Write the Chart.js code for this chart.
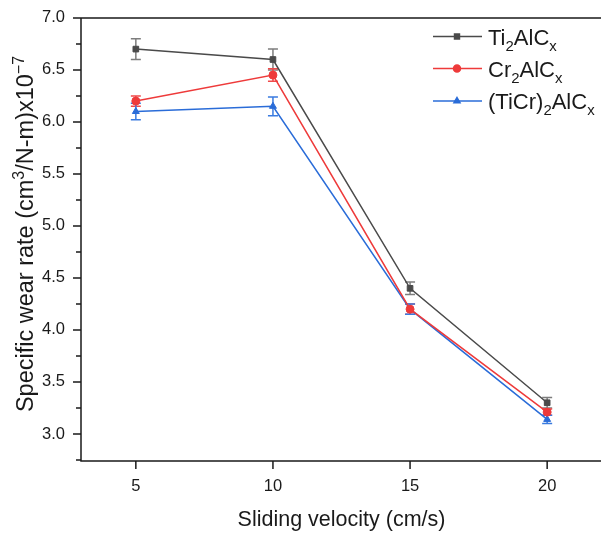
<!DOCTYPE html>
<html lang="en">
<head>
    <meta charset="UTF-8">
    <title>Specific wear rate vs sliding velocity</title>
    <script src="https://cdn.jsdelivr.net/npm/chart.js"></script>
    <style>
        html, body {
            margin: 0;
            padding: 0;
            background: #fff;
            overflow: hidden;
        }
        .chart-container {
            position: absolute;
            left: 0;
            top: 0;
            width: 610px;
            height: 534px;
        }
    </style>
</head>
<body>
    <div class="chart-container">
        <canvas id="wearChart" width="610" height="534"></canvas>
    </div>

    <script>
        // values
        const velocities = [5, 10, 15, 20];
        const tiWear = [6.70, 6.60, 4.40, 3.30];
        const tiErr  = [0.10, 0.10, 0.06, 0.05];
        const crWear = [6.20, 6.45, 4.20, 3.21];
        const crErr  = [0.05, 0.06, 0.05, 0.03];
        const tcWear = [6.10, 6.15, 4.20, 3.14];
        const tcErr  = [0.08, 0.09, 0.05, 0.04];

        const xTicks = [5, 10, 15, 20];
        const yTicks = [3.0, 3.5, 4.0, 4.5, 5.0, 5.5, 6.0, 6.5, 7.0];
        const yMinorTicks = [2.75, 3.25, 3.75, 4.25, 4.75, 5.25, 5.75, 6.25, 6.75];

        // legend labels, split into [text, 'sub'|'sup'|'']
        const legendLabels = [
            [['Ti', ''], ['2', 'sub'], ['AlC', ''], ['x', 'sub']],
            [['Cr', ''], ['2', 'sub'], ['AlC', ''], ['x', 'sub']],
            [['(TiCr)', ''], ['2', 'sub'], ['AlC', ''], ['x', 'sub']]
        ];
        const yTitle = [['Specific wear rate (cm', ''], ['3', 'sup'], ['/N-m)x10', ''], ['\u22127', 'sup']];
        const xTitle = 'Sliding velocity (cm/s)';

        const FONT = '"Liberation Sans", Arial, sans-serif';
        const colors = ['#4a4a4a', '#ee3a3a', '#2a6cd8'];
        const errColors = ['#7d7d7d', '#f04a4a', '#3a7be0'];
        const styles = ['rect', 'circle', 'triangle'];

        function toPoints(ys) {
            return velocities.map((v, i) => ({ x: v, y: ys[i] }));
        }

        // draws text with sub/superscripts, returns its width
        function drawRich(ctx, parts, x, y, size, measureOnly) {
            let cx = x;
            parts.forEach(([txt, mode]) => {
                const s = mode ? size * 0.68 : size;
                ctx.font = s + 'px ' + FONT;
                let dy = 0;
                if (mode === 'sub') dy = size * 0.28;
                if (mode === 'sup') dy = -size * 0.4;
                if (!measureOnly) ctx.fillText(txt, cx, y + dy);
                cx += ctx.measureText(txt).width;
            });
            return cx - x;
        }

        const errorBars = {
            id: 'errorBars',
            beforeDatasetsDraw(chart) {
                const { ctx, scales: { x, y } } = chart;
                const errs = [tiErr, crErr, tcErr];
                ctx.save();
                ctx.lineWidth = 1.5;
                chart.data.datasets.forEach((ds, d) => {
                    ctx.strokeStyle = errColors[d];
                    ds.data.forEach((p, i) => {
                        const px = x.getPixelForValue(p.x);
                        const top = y.getPixelForValue(p.y + errs[d][i]);
                        const bot = y.getPixelForValue(p.y - errs[d][i]);
                        ctx.beginPath();
                        ctx.moveTo(px, top); ctx.lineTo(px, bot);
                        ctx.moveTo(px - 5, top); ctx.lineTo(px + 5, top);
                        ctx.moveTo(px - 5, bot); ctx.lineTo(px + 5, bot);
                        ctx.stroke();
                    });
                });
                ctx.restore();
            }
        };

        const frameAndText = {
            id: 'frameAndText',
            afterDraw(chart) {
                const { ctx, chartArea: a, scales: { x, y } } = chart;
                ctx.save();
                ctx.strokeStyle = '#1a1a1a';
                ctx.lineWidth = 1.5;
                ctx.beginPath();
                ctx.moveTo(a.right, a.top); ctx.lineTo(a.left, a.top);
                ctx.lineTo(a.left, a.bottom); ctx.lineTo(a.right, a.bottom);
                ctx.lineTo(a.right, a.top);
                yTicks.forEach(v => {
                    const py = y.getPixelForValue(v);
                    ctx.moveTo(a.left - 8, py); ctx.lineTo(a.left, py);
                });
                yMinorTicks.forEach(v => {
                    const py = y.getPixelForValue(v);
                    ctx.moveTo(a.left - 5, py); ctx.lineTo(a.left, py);
                });
                xTicks.forEach(v => {
                    const px = x.getPixelForValue(v);
                    ctx.moveTo(px, a.bottom); ctx.lineTo(px, a.bottom + 8);
                });
                ctx.stroke();

                // axis titles
                ctx.fillStyle = '#1a1a1a';
                ctx.textBaseline = 'alphabetic';
                ctx.textAlign = 'left';
                ctx.font = '21.5px ' + FONT;
                const xw = ctx.measureText(xTitle).width;
                ctx.fillText(xTitle, (a.left + a.right) / 2 - xw / 2, 526);

                ctx.save();
                ctx.translate(33, 234);
                ctx.rotate(-Math.PI / 2);
                const yw = drawRich(ctx, yTitle, 0, 0, 23.5, true);
                drawRich(ctx, yTitle, -yw / 2, 0, 23.5);
                ctx.restore();

                // legend
                const rows = [36.5, 68.5, 101];
                legendLabels.forEach((parts, i) => {
                    const ly = rows[i];
                    ctx.strokeStyle = colors[i];
                    ctx.lineWidth = 1.5;
                    ctx.beginPath();
                    ctx.moveTo(433, ly); ctx.lineTo(482, ly);
                    ctx.stroke();
                    ctx.fillStyle = colors[i];
                    Chart.helpers.drawPoint(ctx, { pointStyle: styles[i], radius: 3.5, rotation: 0, borderWidth: 1 }, 457, ly);
                    ctx.fillStyle = '#1a1a1a';
                    drawRich(ctx, parts, 488, ly + 8, 22);
                });
                ctx.restore();
            }
        };

        const names = ['Ti2AlCx', 'Cr2AlCx', '(TiCr)2AlCx'];
        const series = [tiWear, crWear, tcWear];

        const ctx = document.getElementById('wearChart').getContext('2d');
        new Chart(ctx, {
            type: 'line',
            data: {
                datasets: series.map((s, i) => ({
                    label: names[i],
                    data: toPoints(s),
                    borderColor: colors[i],
                    backgroundColor: colors[i],
                    borderWidth: 1.5,
                    pointStyle: styles[i],
                    pointRadius: 4,
                    pointBorderWidth: 1,
                    tension: 0
                }))
            },
            options: {
                responsive: false,
                animation: false,
                layout: { padding: { top: 15, right: 8, left: 0, bottom: 0 } },
                scales: {
                    x: {
                        type: 'linear',
                        min: 3,
                        max: 22,
                        grid: { display: false },
                        border: { display: false },
                        afterBuildTicks: s => { s.ticks = xTicks.map(v => ({ value: v })); },
                        afterFit: s => { s.height = 73; },
                        ticks: {
                            padding: 8,
                            color: '#1a1a1a',
                            font: { family: FONT, size: 16.5 }
                        }
                    },
                    y: {
                        min: 2.74,
                        max: 7.0,
                        grid: { display: false },
                        border: { display: false },
                        afterBuildTicks: s => { s.ticks = yTicks.map(v => ({ value: v })); },
                        afterFit: s => { s.width = 81; },
                        ticks: {
                            padding: 8,
                            color: '#1a1a1a',
                            font: { family: FONT, size: 16.5 },
                            callback: v => Number(v).toFixed(1)
                        }
                    }
                },
                plugins: {
                    legend: { display: false },
                    tooltip: { enabled: false }
                }
            },
            plugins: [errorBars, frameAndText]
        });
    </script>
</body>
</html>
